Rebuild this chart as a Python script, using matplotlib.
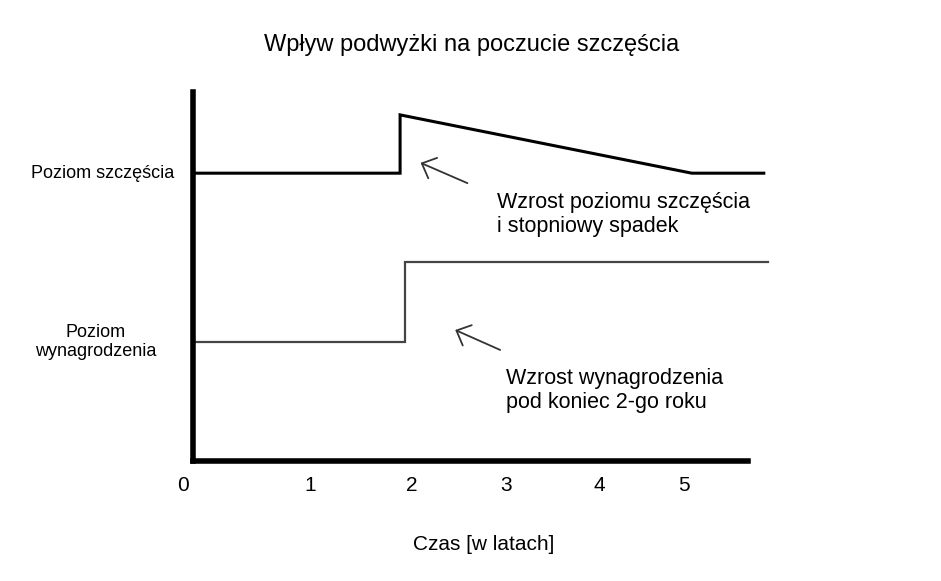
import matplotlib.pyplot as plt

plt.rcParams['font.family'] = ['Liberation Sans', 'DejaVu Sans']

# schematic data (years, arbitrary level units)
happy_x = [-0.305, 1.91, 1.91, 5.03, 5.80]
happy_y = [7.8, 7.8, 9.38, 7.8, 7.8]
salary_x = [-0.305, 1.96, 1.96, 5.85]
salary_y = [3.22, 3.22, 5.39, 5.39]

# tick labels are hand placed in the original, not evenly spaced
tick_years = [-0.41, 0.95, 2.03, 3.04, 4.04, 4.95]
tick_labels = ['0', '1', '2', '3', '4', '5']

level_happy = 'Poziom szczęścia'
level_salary = 'Poziom\nwynagrodzenia'
note_happy = 'Wzrost poziomu szczęścia\ni stopniowy spadek'
note_salary = 'Wzrost wynagrodzenia\npod koniec 2-go roku'

fig = plt.figure(figsize=(9.41, 5.81), dpi=100)
ax = fig.add_axes([193 / 941, 120 / 581, (775 - 193) / 941, (461 - 92) / 581])

# axes drawn as thick black spines
for s in ['top', 'right']:
    ax.spines[s].set_visible(False)
ax.spines['left'].set_linewidth(4)
ax.spines['bottom'].set_linewidth(4)

ax.plot(happy_x, happy_y, color='black', lw=2.2, clip_on=False, solid_joinstyle='miter')
ax.plot(salary_x, salary_y, color='#444444', lw=1.6, clip_on=False, solid_joinstyle='miter')

tick_pad = 10.5
ax.set_xticks(tick_years[1:], tick_labels[1:], fontsize=15)
ax.set_yticks([])
ax.tick_params(axis='x', length=0, pad=tick_pad)
ax.set_xlim(-0.305, 5.92)
ax.set_ylim(0, 10)
ax.spines['bottom'].set_bounds(-0.305, 5.63)
ax.spines['left'].set_bounds(0, 10)
# the "0" label sits a bit left of the origin, outside the x limits
ax.annotate(tick_labels[0], xy=(tick_years[0], 0), xycoords=('data', 'axes fraction'),
            xytext=(0, -tick_pad), textcoords='offset points', ha='center', va='top',
            fontsize=15, annotation_clip=False)

ax.set_xlabel('Czas [w latach]', fontsize=15, labelpad=29)
fig.suptitle('Wpływ podwyżki na poczucie szczęścia', fontsize=17, x=472 / 941, y=1 - 45 / 581, va='center')

# level labels on the left
ax.text(-0.51, happy_y[0], level_happy, fontsize=13, ha='right', va='center', clip_on=False)
ax.text(-1.35, salary_y[0], level_salary, fontsize=13, ha='center', va='center',
        multialignment='center', linespacing=1.15, clip_on=False)

# notes with arrows
arrow = dict(arrowstyle='->, head_length=0.85, head_width=0.8', color='#333333', lw=1.3,
             shrinkA=0, shrinkB=0)
ax.annotate('', xy=(2.13, 8.08), xytext=(2.63, 7.53), arrowprops=arrow)
ax.annotate('', xy=(2.50, 3.55), xytext=(2.98, 3.01), arrowprops=arrow)
ax.text(2.95, 6.67, note_happy, fontsize=15.5, ha='left', va='center', linespacing=1.2)
ax.text(3.04, 1.92, note_salary, fontsize=15.5, ha='left', va='center', linespacing=1.2)

fig.savefig('out.png', dpi=100, facecolor='white')
